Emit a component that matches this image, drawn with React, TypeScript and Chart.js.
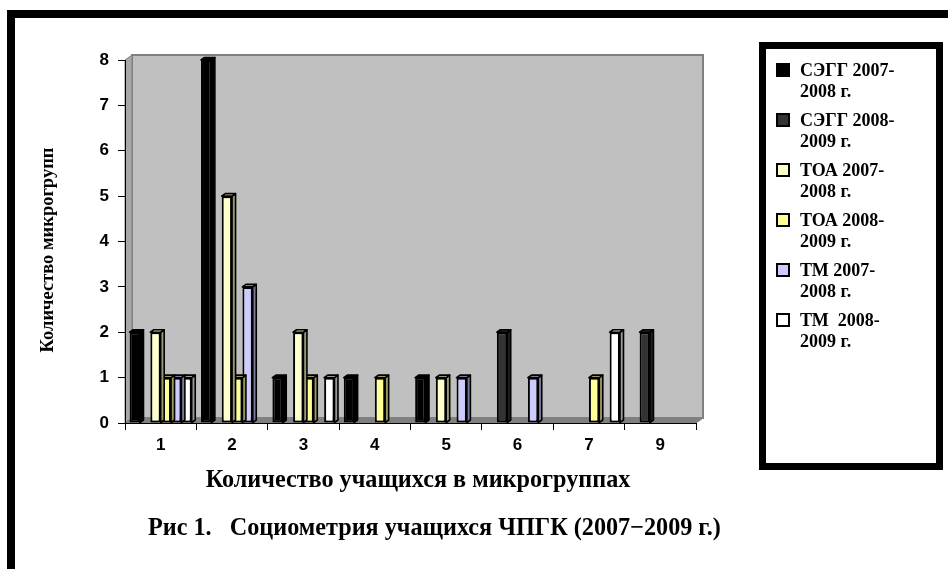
import React, { useEffect, useRef } from "react";
import { Chart, registerables } from "chart.js";

Chart.register(...registerables);

// ---- data ----
const categories = ["1", "2", "3", "4", "5", "6", "7", "9"];
const yTickValues = [0, 1, 2, 3, 4, 5, 6, 7, 8];

const segg0708 = [2, 8, 1, 1, 1, 0, 0, 0];
const segg0809 = [0, 0, 0, 0, 0, 2, 0, 2];
const toa0708 = [2, 5, 2, 0, 1, 0, 0, 0];
const toa0809 = [1, 1, 1, 1, 0, 0, 1, 0];
const tm0708 = [1, 3, 0, 0, 1, 1, 0, 0];
const tm0809 = [1, 0, 1, 0, 0, 0, 2, 0];

const seriesLabels = [
  ["СЭГГ 2007-", "2008 г."],
  ["СЭГГ 2008-", "2009 г."],
  ["ТОА 2007-", "2008 г."],
  ["ТОА 2008-", "2009 г."],
  ["ТМ 2007-", "2008 г."],
  ["ТМ  2008-", "2009 г."],
];
const seriesColors = ["#000000", "#333333", "#FFFFCC", "#FFFF99", "#CCCCFF", "#FFFFFF"];
const seriesValues = [segg0708, segg0809, toa0708, toa0809, tm0708, tm0809];

const yTitle = "Количество микрогрупп";
const xTitle = "Количество учащихся в микрогруппах";
const caption = "Рис 1.   Социометрия учащихся ЧПГК (2007−2009 г.)";

const SERIF = "'Liberation Serif', 'Times New Roman', serif";
const SANS = "'Liberation Sans', Arial, sans-serif";

function shade(hex: string, f: number) {
  const n = parseInt(hex.slice(1), 16);
  const r = Math.round(((n >> 16) & 255) * f);
  const g = Math.round(((n >> 8) & 255) * f);
  const b = Math.round((n & 255) * f);
  return `rgb(${r},${g},${b})`;
}

const DX = 7;
const DY = 5;

const decorPlugin = {
  id: "decor",
  beforeDraw(chart: any) {
    const { ctx, chartArea } = chart;
    const { left: L, right: R, top: T, bottom: B } = chartArea;
    ctx.save();
    ctx.fillStyle = "#ffffff";
    ctx.fillRect(0, 0, chart.width, chart.height);
    // outer frame
    ctx.fillStyle = "#000";
    ctx.fillRect(7, 10, chart.width, 8);
    ctx.fillRect(7, 10, 8, chart.height);
    // back wall
    ctx.fillStyle = "#C0C0C0";
    ctx.fillRect(L + DX, T - DY, R - L, B - T);
    ctx.strokeStyle = "#808080";
    ctx.lineWidth = 2;
    ctx.strokeRect(L + DX, T - DY, R - L, B - T);
    // side wall
    ctx.beginPath();
    ctx.moveTo(L, T);
    ctx.lineTo(L + DX, T - DY);
    ctx.lineTo(L + DX, B - DY);
    ctx.lineTo(L, B);
    ctx.closePath();
    ctx.fillStyle = "#A8A8A8";
    ctx.fill();
    ctx.lineWidth = 1;
    ctx.stroke();
    // floor
    ctx.beginPath();
    ctx.moveTo(L, B);
    ctx.lineTo(L + DX, B - DY);
    ctx.lineTo(R + DX, B - DY);
    ctx.lineTo(R, B);
    ctx.closePath();
    ctx.fillStyle = "#808080";
    ctx.fill();
    ctx.stroke();
    ctx.restore();
  },
  afterDatasetDraw(chart: any, args: any) {
    const { ctx } = chart;
    const meta = args.meta;
    const ds = chart.data.datasets[args.index];
    const color = seriesColors[args.index];
    const d = 3.5;
    const dy = 2.5;
    ctx.save();
    ctx.lineWidth = 1.6;
    ctx.strokeStyle = "#000";
    ctx.lineJoin = "round";
    meta.data.forEach((bar: any, i: number) => {
      if (!ds.data[i]) return;
      const { x, y, base, width } = bar.getProps(["x", "y", "base", "width"], true);
      const l = x - width / 2;
      const r = x + width / 2;
      ctx.beginPath();
      ctx.moveTo(r, y);
      ctx.lineTo(r + d, y - dy);
      ctx.lineTo(r + d, base - dy);
      ctx.lineTo(r, base);
      ctx.closePath();
      ctx.fillStyle = shade(color, 0.6);
      ctx.fill();
      ctx.stroke();
      ctx.beginPath();
      ctx.moveTo(l, y);
      ctx.lineTo(l + d, y - dy);
      ctx.lineTo(r + d, y - dy);
      ctx.lineTo(r, y);
      ctx.closePath();
      ctx.fillStyle = shade(color, 0.8);
      ctx.fill();
      ctx.stroke();
    });
    ctx.restore();
  },
  afterDraw(chart: any) {
    const { ctx } = chart;
    ctx.save();
    ctx.fillStyle = "#000";
    // y title
    ctx.save();
    ctx.translate(48, 250);
    ctx.rotate(-Math.PI / 2);
    ctx.font = `bold 18.5px ${SERIF}`;
    ctx.textAlign = "center";
    ctx.textBaseline = "middle";
    ctx.fillText(yTitle, 0, 0);
    ctx.restore();
    // x title
    ctx.font = `bold 24.2px ${SERIF}`;
    ctx.textAlign = "center";
    ctx.textBaseline = "middle";
    ctx.fillText(xTitle, 418, 481);
    // caption
    ctx.font = `bold 24.2px ${SERIF}`;
    ctx.textAlign = "left";
    ctx.fillText(caption, 148, 529);
    // legend box
    ctx.strokeStyle = "#000";
    ctx.lineWidth = 7;
    ctx.strokeRect(762.5, 45.5, 177, 421);
    ctx.font = `bold 18px ${SERIF}`;
    ctx.textBaseline = "alphabetic";
    seriesLabels.forEach((lines, i) => {
      const by = 76 + i * 50;
      ctx.fillStyle = seriesColors[i];
      ctx.fillRect(777, by - 12, 12, 12);
      ctx.lineWidth = 2;
      ctx.strokeRect(777, by - 12, 12, 12);
      ctx.fillStyle = "#000";
      ctx.fillText(lines[0], 800, by);
      ctx.fillText(lines[1], 800, by + 21);
    });
    ctx.restore();
  },
};

export default function App() {
  const ref = useRef<HTMLCanvasElement | null>(null);
  useEffect(() => {
    document.body.style.margin = "0";
    const canvas = ref.current!;
    const chart = new Chart(canvas, {
      type: "bar",
      data: {
        labels: categories,
        datasets: seriesValues.map((vals, i) => ({
          label: seriesLabels[i].join(" "),
          data: vals,
          backgroundColor: seriesColors[i],
          borderColor: "#000000",
          borderWidth: (c: any) => (c.raw ? 2 : 0),
          borderSkipped: false,
          categoryPercentage: 0.87,
          barPercentage: 1.0,
        })),
      },
      options: {
        animation: false,
        responsive: false,
        maintainAspectRatio: false,
        devicePixelRatio: 1,
        layout: { padding: { left: 0, top: 60, right: 252, bottom: 0 } },
        plugins: { legend: { display: false }, tooltip: { enabled: false }, title: { display: false } },
        scales: {
          x: {
            offset: true,
            grid: { offset: true, drawOnChartArea: false, drawTicks: true, tickLength: 7, color: "#000", lineWidth: 1 },
            border: { display: true, color: "#000", width: 1 },
            ticks: { color: "#000", font: { family: SANS, size: 17, weight: "bold" }, padding: 5 },
            afterFit: (s: any) => { s.height = 569 - 423; },
          },
          y: {
            min: 0,
            max: 8,
            afterBuildTicks: (s: any) => { s.ticks = yTickValues.map((v) => ({ value: v })); },
            grid: { drawOnChartArea: false, drawTicks: true, tickLength: 7, color: "#000", lineWidth: 1 },
            border: { display: true, color: "#000", width: 1 },
            ticks: { color: "#000", font: { family: SANS, size: 17, weight: "bold" }, padding: 9 },
            afterFit: (s: any) => { s.width = 125; },
          },
        },
      },
      plugins: [decorPlugin],
    } as any);
    return () => chart.destroy();
  }, []);
  return (
    <div style={{ width: 948, height: 569, overflow: "hidden" }}>
      <canvas ref={ref} width={948} height={569} style={{ display: "block" }} />
    </div>
  );
}
